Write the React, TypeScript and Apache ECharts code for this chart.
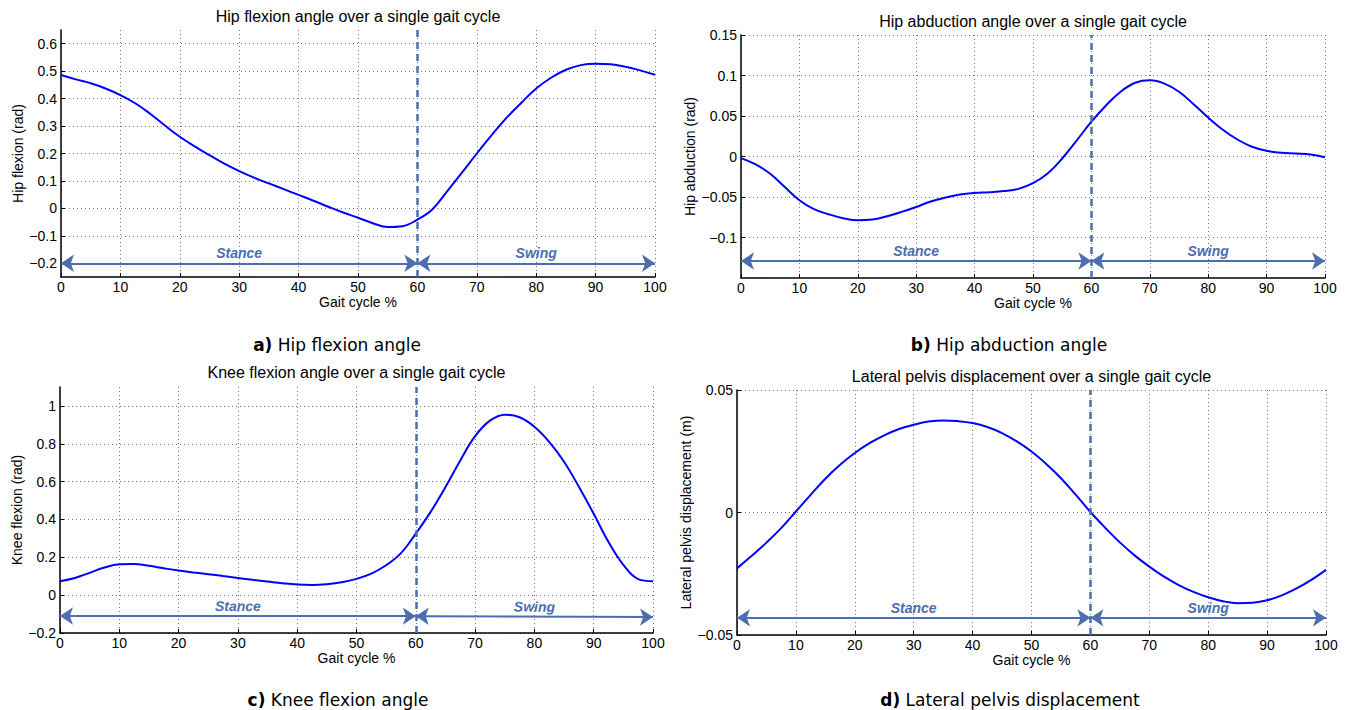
import React, { useEffect, useRef } from "react";
import * as echarts from "echarts";

// ---- data ----
const gaitPct = [0, 2.5, 5, 7.5, 10, 12.5, 15, 17.5, 20, 22.5, 25, 27.5, 30, 32.5, 35, 37.5, 40, 42.5, 45, 47.5, 50, 52.5, 55, 57.5, 60, 62.5, 65, 67.5, 70, 72.5, 75, 77.5, 80, 82.5, 85, 87.5, 90, 92.5, 95, 97.5, 100];

const hipFlexion = [0.486, 0.470, 0.456, 0.437, 0.413, 0.383, 0.345, 0.302, 0.261, 0.226, 0.194, 0.163, 0.136, 0.112, 0.091, 0.070, 0.049, 0.028, 0.006, -0.015, -0.034, -0.054, -0.068, -0.065, -0.041, -0.004, 0.062, 0.130, 0.200, 0.267, 0.330, 0.385, 0.437, 0.476, 0.505, 0.522, 0.527, 0.525, 0.516, 0.503, 0.487];

const hipAbduction = [-0.002, -0.0098, -0.0213, -0.0377, -0.054, -0.065, -0.0713, -0.0762, -0.0787, -0.0779, -0.0738, -0.0684, -0.0623, -0.0555, -0.0507, -0.047, -0.045, -0.044, -0.0427, -0.040, -0.033, -0.021, -0.0025, 0.020, 0.043, 0.063, 0.080, 0.091, 0.094, 0.090, 0.080, 0.0645, 0.048, 0.033, 0.021, 0.012, 0.007, 0.0045, 0.0037, 0.0025, -0.001];

const kneeFlexion = [0.074, 0.091, 0.118, 0.146, 0.163, 0.165, 0.155, 0.142, 0.130, 0.120, 0.111, 0.101, 0.091, 0.081, 0.072, 0.063, 0.056, 0.054, 0.058, 0.068, 0.086, 0.114, 0.158, 0.222, 0.325, 0.44, 0.571, 0.712, 0.840, 0.922, 0.954, 0.940, 0.890, 0.810, 0.705, 0.573, 0.430, 0.281, 0.160, 0.085, 0.074];

const pelvisDisp = [-0.0228, -0.0177, -0.0123, -0.0064, 0.0004, 0.0072, 0.0138, 0.0195, 0.0243, 0.0283, 0.0315, 0.0341, 0.0358, 0.0371, 0.0376, 0.0373, 0.0365, 0.0349, 0.0324, 0.0290, 0.0249, 0.0198, 0.0140, 0.0073, 0.0002, -0.0062, -0.0122, -0.0175, -0.0221, -0.0262, -0.0296, -0.0324, -0.0346, -0.0362, -0.0370, -0.0368, -0.0358, -0.0338, -0.0310, -0.0275, -0.0234];

const xTicks = [0, 10, 20, 30, 40, 50, 60, 70, 80, 90, 100];
const yTicksA = [-0.2, -0.1, 0, 0.1, 0.2, 0.3, 0.4, 0.5, 0.6];
const yTicksB = [-0.1, -0.05, 0, 0.05, 0.1, 0.15];
const yTicksC = [-0.2, 0, 0.2, 0.4, 0.6, 0.8, 1];
const yTicksD = [-0.05, 0, 0.05];

const yRanges = [
  [-0.25, 0.65],
  [-0.15, 0.15],
  [-0.2, 1.1],
  [-0.05, 0.05],
];

const phaseSplit = 60;
const phaseNames = ["Stance", "Swing"];
// y level of the phase arrows (left end, split, right end)
const arrowLevels = [
  [-0.2, -0.2, -0.2],
  [-0.129, -0.129, -0.129],
  [-0.11, -0.111, -0.116],
  [-0.043, -0.043, -0.043],
];

const plotTitles = [
  "Hip flexion angle over a single gait cycle",
  "Hip abduction angle over a single gait cycle",
  "Knee flexion angle over a single gait cycle",
  "Lateral pelvis displacement over a single gait cycle",
];
const yNames = [
  "Hip flexion (rad)",
  "Hip abduction (rad)",
  "Knee flexion (rad)",
  "Lateral pelvis displacement (m)",
];
const captionTags = ["a)", "b)", "c)", "d)"];
const captionTexts = ["Hip flexion angle", "Hip abduction angle", "Knee flexion angle", "Lateral pelvis displacement"];

// ---- layout ----
const grids = [
  { left: 61, top: 30, width: 594, height: 247 },
  { left: 741, top: 35, width: 584, height: 243 },
  { left: 60, top: 387, width: 593, height: 246 },
  { left: 737, top: 390, width: 589, height: 245 },
];
const yNameGaps = [36, 44, 36, 44];
const titleTops = [8, 13, 364, 368];
const captionPos = [
  [337, 336],
  [1009, 336],
  [338, 691],
  [1010, 691],
];

const STEEL = "#4a6eb0";
const FONT = "Liberation Sans, Arial, sans-serif";

const fmt = (v: number) => {
  const s = String(parseFloat(Number(v).toFixed(4)));
  return s.replace("-", "\u2212");
};

export default function App() {
  const ref = useRef<HTMLDivElement>(null);
  useEffect(() => {
    document.body.style.margin = "0";
    const chart = echarts.init(ref.current!, null, { renderer: "svg" });
    const yTicks = [yTicksA, yTicksB, yTicksC, yTicksD];
    const seriesData = [hipFlexion, hipAbduction, kneeFlexion, pelvisDisp];

    const xAxis = grids.map((_, i) => ({
      type: "value",
      gridIndex: i,
      min: xTicks[0],
      max: xTicks[xTicks.length - 1],
      interval: xTicks[1] - xTicks[0],
      name: "Gait cycle %",
      nameLocation: "middle",
      nameGap: 18,
      nameTextStyle: { fontFamily: FONT, fontSize: 14, color: "#000" },
      axisLine: { show: true, onZero: false, lineStyle: { color: "#000", width: 1.5 } },
      axisTick: { show: true, inside: true, length: 4, lineStyle: { color: "#000" } },
      axisLabel: { fontFamily: FONT, fontSize: 14, color: "#000", margin: 3, formatter: fmt },
      splitLine: { show: true, lineStyle: { color: "#777", type: [1, 3], width: 1 } },
    }));

    const yAxis = grids.map((_, i) => ({
      type: "value",
      gridIndex: i,
      min: yRanges[i][0],
      max: yRanges[i][1],
      name: yNames[i],
      nameLocation: "middle",
      nameGap: yNameGaps[i],
      nameTextStyle: { fontFamily: FONT, fontSize: 14, color: "#000" },
      axisLine: { show: true, onZero: false, lineStyle: { color: "#000", width: 1.5 } },
      axisTick: { show: true, inside: true, length: 4, lineStyle: { color: "#000" }, customValues: yTicks[i] },
      axisLabel: { fontFamily: FONT, fontSize: 14, color: "#000", margin: 4, formatter: fmt, customValues: yTicks[i] },
      splitLine: { show: true, lineStyle: { color: "#777", type: [1, 3], width: 1 } },
    }));

    const labelStyle = {
      show: true,
      position: "insideMiddleTop",
      distance: 3,
      color: STEEL,
      fontFamily: FONT,
      fontSize: 14,
      fontStyle: "italic",
      fontWeight: "bold",
    };

    const series = grids.map((_, i) => {
      const lv = arrowLevels[i];
      return {
        type: "line",
        xAxisIndex: i,
        yAxisIndex: i,
        data: gaitPct.map((x, k) => [x, seriesData[i][k]]),
        smooth: 0.4,
        showSymbol: false,
        lineStyle: { color: "#0000ff", width: 2 },
        itemStyle: { color: "#0000ff" },
        z: 3,
        markLine: {
          silent: true,
          animation: false,
          symbol: ["arrow", "arrow"],
          symbolSize: [13, 13],
          data: [
            [
              {
                coord: [0, lv[0]],
                lineStyle: { color: STEEL, width: 2, type: "solid" },
                label: { ...labelStyle, formatter: phaseNames[0] },
              },
              { coord: [phaseSplit, lv[1]] },
            ],
            [
              {
                coord: [phaseSplit, lv[1]],
                lineStyle: { color: STEEL, width: 2, type: "solid" },
                label: { ...labelStyle, formatter: phaseNames[1] },
              },
              { coord: [100, lv[2]] },
            ],
            [
              {
                coord: [phaseSplit, yRanges[i][0]],
                symbol: "none",
                lineStyle: { color: STEEL, width: 2.5, type: [7, 5] },
                label: { show: false },
              },
              { coord: [phaseSplit, yRanges[i][1]], symbol: "none" },
            ],
          ],
        },
      };
    });

    const titles: any[] = [];
    grids.forEach((g, i) => {
      titles.push({
        text: plotTitles[i],
        left: g.left + g.width / 2,
        top: titleTops[i],
        padding: 0,
        textAlign: "center",
        textStyle: { fontFamily: FONT, fontSize: 16, fontWeight: "normal", color: "#000" },
      });
      titles.push({
        text: `{b|${captionTags[i]}}{n| ${captionTexts[i]}}`,
        left: captionPos[i][0],
        top: captionPos[i][1],
        padding: 0,
        textAlign: "center",
        textStyle: {
          rich: {
            b: { fontFamily: "DejaVu Sans, sans-serif", fontSize: 17, fontWeight: "bold", color: "#000" },
            n: { fontFamily: "DejaVu Sans, sans-serif", fontSize: 17, fontWeight: "normal", color: "#000" },
          },
        },
      });
    });

    chart.setOption({
      animation: false,
      backgroundColor: "#fff",
      title: titles,
      grid: grids.map((g) => ({ ...g, containLabel: false })),
      xAxis,
      yAxis,
      series,
    });
    return () => chart.dispose();
  }, []);
  return <div ref={ref} style={{ width: 1349, height: 710 }} />;
}
